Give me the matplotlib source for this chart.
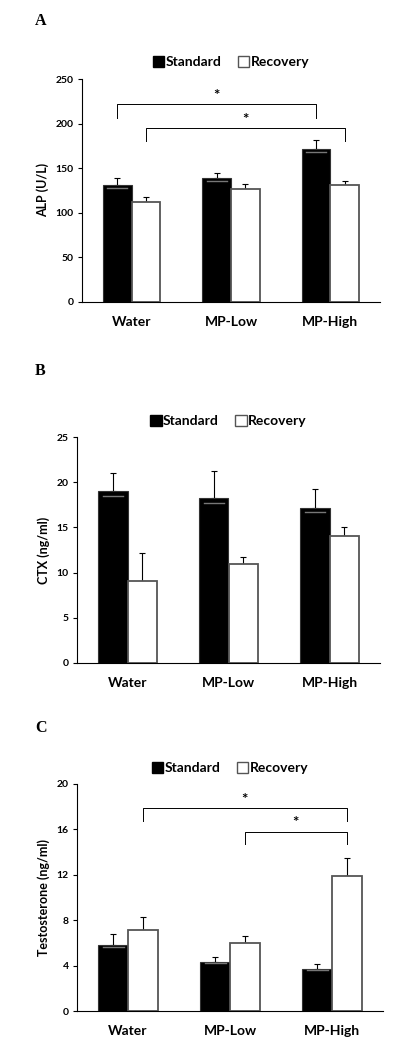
import matplotlib
matplotlib.use("Agg")
import matplotlib.pyplot as plt
from matplotlib.patches import Patch
import numpy as np

plt.rcParams['font.family'] = ['Lato', 'DejaVu Sans']
plt.rcParams['font.weight'] = 'bold'

groups = ["Water", "MP-Low", "MP-High"]
series = ["Standard", "Recovery"]

alp_std = [131, 139, 172]
alp_std_err = [8, 6, 10]
alp_rec = [112, 127, 131]
alp_rec_err = [6, 5, 5]

ctx_std = [19.0, 18.2, 17.1]
ctx_std_err = [2.0, 3.0, 2.1]
ctx_rec = [9.1, 11.0, 14.0]
ctx_rec_err = [3.1, 0.7, 1.0]

tes_std = [5.8, 4.3, 3.7]
tes_std_err = [1.0, 0.5, 0.4]
tes_rec = [7.1, 5.95, 11.9]
tes_rec_err = [1.2, 0.65, 1.6]

fig = plt.figure(figsize=(4.0, 10.48), dpi=100)

panels = [
    dict(letter="A", rect=[0.205, 0.712, 0.745, 0.2126], std=alp_std, se=alp_std_err,
         rec=alp_rec, re=alp_rec_err, ylim=250, ticks=[0, 50, 100, 150, 200, 250],
         ylabel="ALP (U/L)", letter_y=0.980, leg_y=1.075,
         brackets=[(0, 0, 2, 0, 221.6, 206), (0, 1, 2, 1, 195, 180)]),
    dict(letter="B", rect=[0.1925, 0.3674, 0.7575, 0.2156], std=ctx_std, se=ctx_std_err,
         rec=ctx_rec, re=ctx_rec_err, ylim=25, ticks=[0, 5, 10, 15, 20, 25],
         ylabel="CTX (ng/ml)", letter_y=0.646, leg_y=1.07, brackets=[]),
    dict(letter="C", rect=[0.1925, 0.0353, 0.765, 0.2167], std=tes_std, se=tes_std_err,
         rec=tes_rec, re=tes_rec_err, ylim=20, ticks=[0, 4, 8, 12, 16, 20],
         ylabel="Testosterone (ng/ml)", letter_y=0.305, leg_y=1.07,
         brackets=[(0, 1, 2, 1, 17.9, 16.7), (1, 1, 2, 1, 15.8, 14.7)]),
]

w = 0.29
x = np.arange(len(groups))

for p in panels:
    ax = fig.add_axes(p["rect"])
    ax.bar(x - w / 2, p["std"], w, color="black", edgecolor="#333333", linewidth=0.8, zorder=2)
    ax.bar(x + w / 2, p["rec"], w, color="white", edgecolor="#555555", linewidth=1.3, zorder=2)
    for xi, v in zip(x, p["std"]):
        ax.plot([xi - w * 0.85, xi - w * 0.15], [v * 0.975, v * 0.975], color="#777777", lw=1.0, zorder=3)
    ax.errorbar(x - w / 2, p["std"], yerr=[np.zeros(3), p["se"]], fmt="none",
                ecolor="black", elinewidth=0.8, capsize=2.5, capthick=0.8, zorder=1)
    ax.errorbar(x + w / 2, p["rec"], yerr=[np.zeros(3), p["re"]], fmt="none",
                ecolor="black", elinewidth=0.8, capsize=2.5, capthick=0.8, zorder=1)
    ax.set_xlim(-0.5, 2.5)
    ax.set_ylim(0, p["ylim"])
    ax.set_yticks(p["ticks"])
    ax.set_yticklabels([str(t) for t in p["ticks"]], fontsize=7.5, fontweight="bold")
    ax.set_xticks(x)
    ax.set_xticklabels(groups, fontsize=10, fontweight="bold")
    ax.tick_params(axis="x", length=0, pad=10)
    ax.tick_params(axis="y", length=3, width=0.8, direction="out", pad=3)
    ax.set_ylabel(p["ylabel"], fontsize=9, fontweight="bold", labelpad=5)
    for s in ["top", "right"]:
        ax.spines[s].set_visible(False)
    ax.spines["left"].set_linewidth(0.8)
    ax.spines["bottom"].set_linewidth(0.8)
    handles = [Patch(facecolor="black", edgecolor="black"),
               Patch(facecolor="white", edgecolor="#555555")]
    ax.legend(handles, series, loc="center", bbox_to_anchor=(0.5, p["leg_y"]), ncol=2,
              frameon=False, handlelength=0.8, handleheight=0.8,
              handletextpad=0.1, columnspacing=1.2, prop={"weight": "bold", "size": 10})
    for (g1, s1, g2, s2, top, leg) in p["brackets"]:
        x1 = g1 + (-w / 2 if s1 == 0 else w / 2)
        x2 = g2 + (-w / 2 if s2 == 0 else w / 2)
        ax.plot([x1, x1, x2, x2], [leg, top, top, leg], color="black", lw=0.7, clip_on=False)
        ax.text((x1 + x2) / 2, top + p["ylim"] * 0.005, "*", ha="center", va="bottom",
                fontsize=11, fontweight="bold")
    fig.text(0.088, p["letter_y"], p["letter"], fontsize=11.5, fontweight="bold",
             family="Liberation Serif", ha="left", va="center")

fig.savefig("out.png", dpi=100)
